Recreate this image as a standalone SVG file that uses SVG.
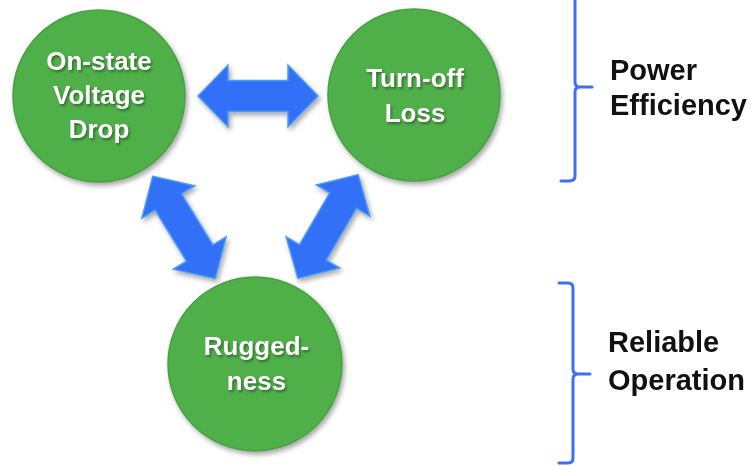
<svg xmlns="http://www.w3.org/2000/svg" xmlns:xlink="http://www.w3.org/1999/xlink" width="753" height="466" viewBox="0 0 753 466">
  <defs>
    <style>
      .node { fill: #50AF4A; stroke: #46A043; stroke-width: 1.5; }
      .label { font-family: "Liberation Sans", Arial, sans-serif; font-weight: bold; font-size: 26px; fill: #FFFFFF; text-anchor: middle; }
      .label-shadow { font-family: "Liberation Sans", Arial, sans-serif; font-weight: bold; font-size: 26px; fill: #1E3A1C; fill-opacity: 0.55; text-anchor: middle; }
      .arrow { fill: #3370F7; stroke: #4C9CF2; stroke-width: 1.5; stroke-linejoin: miter; }
      .brace { fill: none; stroke: #3F6DF5; stroke-width: 3; stroke-linecap: round; stroke-linejoin: round; }
      .side { font-family: "Liberation Sans", Arial, sans-serif; font-weight: bold; font-size: 29px; fill: #111111; }
    </style>
    <filter id="shadow" x="-20%" y="-20%" width="140%" height="140%">
      <feGaussianBlur in="SourceAlpha" stdDeviation="2.5"/>
      <feOffset dx="2" dy="3" result="off"/>
      <feComponentTransfer><feFuncA type="linear" slope="0.35"/></feComponentTransfer>
      <feMerge><feMergeNode/><feMergeNode in="SourceGraphic"/></feMerge>
    </filter>
    <filter id="textblur" x="-10%" y="-30%" width="120%" height="160%">
      <feGaussianBlur stdDeviation="0.8"/>
    </filter>
    <!-- double-headed block arrow, 120 long, centred on the origin -->
    <path id="dblArrow" class="arrow" d="M-60,0 L-30,-31 L-30,-15.5 L30,-15.5 L30,-31 L60,0 L30,31 L30,15.5 L-30,15.5 L-30,31 Z"/>
  </defs>

  <rect width="753" height="466" fill="#FFFFFF"/>

  <!-- connectors -->
  <g id="connectors" filter="url(#shadow)">
    <use xlink:href="#dblArrow" transform="translate(258,96)"/>
    <use xlink:href="#dblArrow" transform="translate(184,227.5) rotate(58.5)"/>
    <use xlink:href="#dblArrow" transform="translate(328,226.5) rotate(120.2)"/>
  </g>

  <!-- nodes -->
  <g id="node-onstate">
    <circle class="node" cx="99" cy="96" r="86" filter="url(#shadow)"/>
    <g filter="url(#textblur)">
      <text class="label-shadow" x="100.5" y="71.5">On-state</text>
      <text class="label-shadow" x="100.5" y="105.5">Voltage</text>
      <text class="label-shadow" x="100.5" y="139.5">Drop</text>
    </g>
    <text class="label" x="99" y="70">On-state</text>
    <text class="label" x="99" y="104">Voltage</text>
    <text class="label" x="99" y="138">Drop</text>
  </g>

  <g id="node-turnoff">
    <circle class="node" cx="414" cy="95" r="86" filter="url(#shadow)"/>
    <g filter="url(#textblur)">
      <text class="label-shadow" x="416.5" y="88.5">Turn-off</text>
      <text class="label-shadow" x="416.5" y="123.5">Loss</text>
    </g>
    <text class="label" x="415" y="87">Turn-off</text>
    <text class="label" x="415" y="122">Loss</text>
  </g>

  <g id="node-ruggedness">
    <circle class="node" cx="255" cy="364" r="87" filter="url(#shadow)"/>
    <g filter="url(#textblur)">
      <text class="label-shadow" x="258" y="356.5">Rugged-</text>
      <text class="label-shadow" x="258" y="391.5">ness</text>
    </g>
    <text class="label" x="256.5" y="355">Rugged-</text>
    <text class="label" x="256.5" y="390">ness</text>
  </g>

  <!-- braces and group labels -->
  <g id="group-power">
    <path class="brace" d="M575,-4 L575,82 Q575,87 580,87 L592,87 M580,87 Q575,87 575,92 L575,176 Q575,181 569,181 L561,181"/>
    <text class="side" x="610" y="80">Power</text>
    <text class="side" x="610" y="115">Efficiency</text>
  </g>

  <g id="group-reliable">
    <path class="brace" d="M559,283 L568,283 Q573,283 573,288 L573,369 Q573,374 578,374 L590,374 M578,374 Q573,374 573,379 L573,458 Q573,463 568,463 L559,463"/>
    <text class="side" x="608" y="352">Reliable</text>
    <text class="side" x="608" y="390">Operation</text>
  </g>
</svg>
